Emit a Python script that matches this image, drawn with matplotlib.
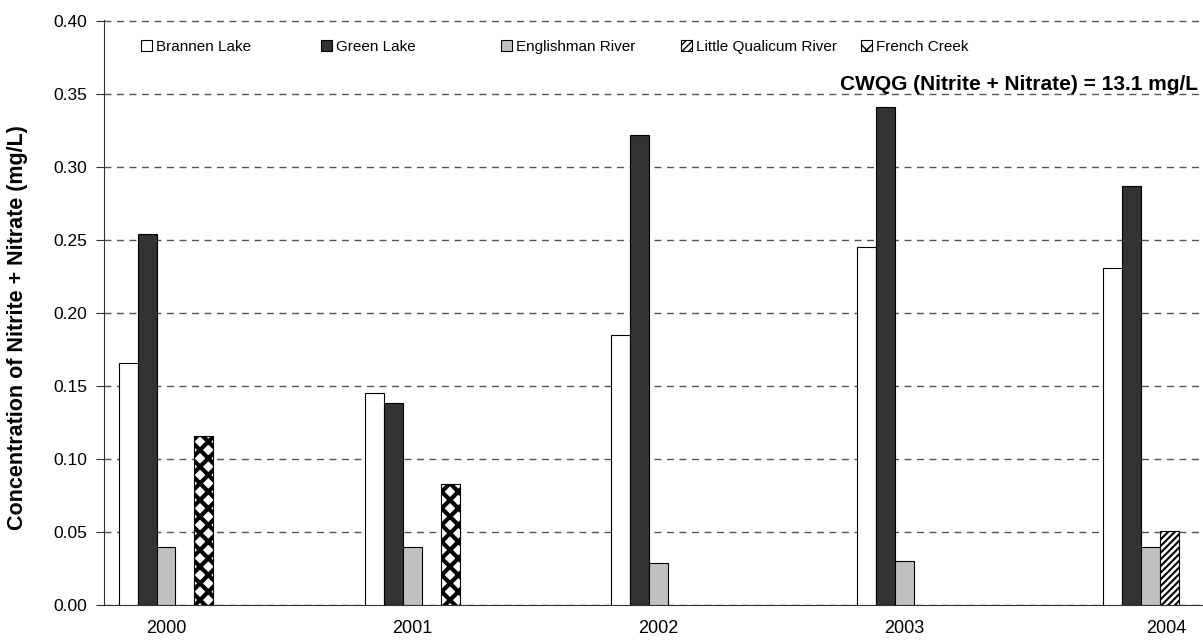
import numpy as np
import matplotlib
matplotlib.use("Agg")
import matplotlib.pyplot as plt
from matplotlib.transforms import ScaledTranslation

plt.rcParams['font.family'] = ['Liberation Sans', 'DejaVu Sans']

years = ['2000', '2001', '2002', '2003', '2004']
brannen_lake = [0.166, 0.145, 0.185, 0.245, 0.231]
green_lake = [0.254, 0.138, 0.322, 0.341, 0.287]
englishman_river = [0.040, 0.040, 0.029, 0.030, 0.040]
little_qualicum_river = [np.nan, np.nan, np.nan, np.nan, 0.051]
french_creek = [0.116, 0.083, np.nan, np.nan, np.nan]

# name, values, fill, hatch, hatch line width
series = [
    ("Brannen Lake", brannen_lake, "white", None, 0.8),
    ("Green Lake", green_lake, "#333333", None, 0.8),
    ("Englishman River", englishman_river, "#c0c0c0", None, 0.8),
    ("Little Qualicum River", little_qualicum_river, "white", "/////", 1.5),
    ("French Creek", french_creek, "white", "xx", 3.0),
]

W, H = 1203, 642
fig = plt.figure(figsize=(W / 100, H / 100), dpi=100)
ax = fig.add_axes([104 / W, (H - 605) / H, 1 - 104 / W, 585 / H])

x = np.arange(len(years))
width = 0.0772
bars = []
for k, (name, vals, color, hatch, hlw) in enumerate(series):
    with plt.rc_context({'hatch.linewidth': hlw, 'hatch.color': 'black'}):
        b = ax.bar(x + (k - 2) * width, vals, width, color=color, edgecolor='black',
                   linewidth=0.8, hatch=hatch, label=name, zorder=3)
    bars.append(b)

yticks = np.arange(0, 0.41, 0.05)
ax.set_xlim(-0.252, 4.215)
ax.set_ylim(0, 0.4005)
ax.set_yticks(yticks)
ax.set_yticklabels([f"{v:.2f}" for v in yticks], fontsize=12.5)
ax.set_xticks(x)
ax.set_xticklabels(years, fontsize=13)
ax.tick_params(axis='x', length=0, pad=11)
ax.tick_params(axis='y', length=6, direction='out', pad=6, color='#333333')

ax.yaxis.grid(True, linestyle=(0, (5, 4)), color='#555555', linewidth=1)
ax.set_axisbelow(True)
for s in ['top', 'right']:
    ax.spines[s].set_visible(False)
ax.spines['left'].set_color('#333333')
ax.spines['bottom'].set_color('#333333')

ax.set_ylabel("Concentration of Nitrite + Nitrate (mg/L)", fontsize=15.5,
              fontweight='bold')
ax.yaxis.set_label_coords(-0.069, 0.475)

ax.annotate("CWQG (Nitrite + Nitrate) = 13.1 mg/L", xy=(1198 / W, 0.35),
            xycoords=('figure fraction', 'data'), fontsize=15, fontweight='bold',
            ha='right', va='bottom')

# last category label sits a bit to the right in the original
lbl = ax.get_xticklabels()[-1]
lbl.set_transform(lbl.get_transform() + ScaledTranslation(0.16, 0, fig.dpi_scale_trans))

# legend entries laid out in equal-width slots across the top
for i, (b, s) in enumerate(zip(bars, series)):
    fig.legend([b], [s[0]], loc='center left',
               bbox_to_anchor=((141 + 180 * i) / W, 1 - 47 / H),
               frameon=False, fontsize=11, handlelength=0.75, handleheight=0.75,
               handletextpad=0.25, borderpad=0, borderaxespad=0)

fig.savefig("out.png", dpi=100)
